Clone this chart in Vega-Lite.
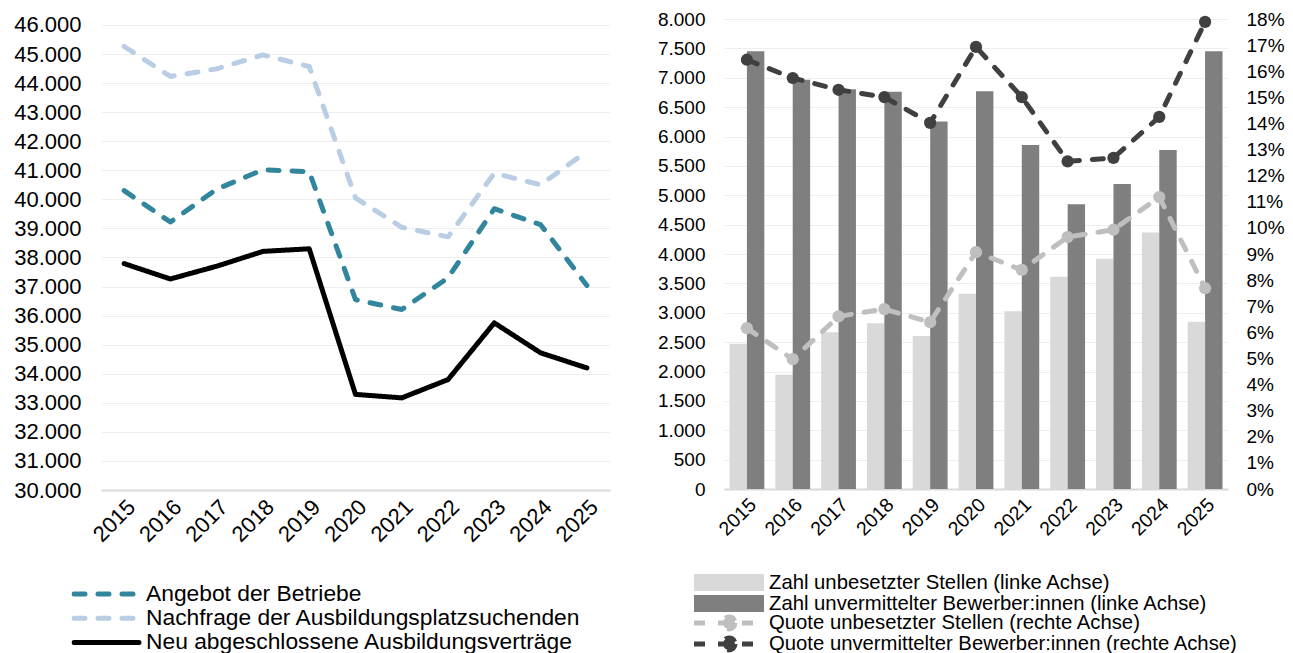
{
  "$schema": "https://vega.github.io/schema/vega-lite/v6.json",
  "padding": {"left": 13, "top": 10, "right": 0, "bottom": 0},
  "background": "white",
  "config": {
    "locale": {"number": {"decimal": ",", "thousands": ".", "grouping": [3], "currency": ["", " €"]}},
    "font": "Liberation Sans",
    "view": {"stroke": null},
    "axis": {"labelFont": "Liberation Sans", "labelColor": "#000000", "ticks": false, "domain": false, "gridColor": "#eeeeee", "gridWidth": 1, "title": null, "labelOverlap": false},
    "legend": {"labelFont": "Liberation Sans", "labelColor": "#000000", "padding": 0, "title": null, "labelLimit": 0}
  },
  "datasets": {
    "left": [
      {"year": "2015", "series": "Angebot der Betriebe", "value": 40300},
      {"year": "2016", "series": "Angebot der Betriebe", "value": 39220},
      {"year": "2017", "series": "Angebot der Betriebe", "value": 40350},
      {"year": "2018", "series": "Angebot der Betriebe", "value": 41020},
      {"year": "2019", "series": "Angebot der Betriebe", "value": 40950},
      {"year": "2020", "series": "Angebot der Betriebe", "value": 36550},
      {"year": "2021", "series": "Angebot der Betriebe", "value": 36210},
      {"year": "2022", "series": "Angebot der Betriebe", "value": 37300},
      {"year": "2023", "series": "Angebot der Betriebe", "value": 39680},
      {"year": "2024", "series": "Angebot der Betriebe", "value": 39130},
      {"year": "2025", "series": "Angebot der Betriebe", "value": 37040},
      {"year": "2015", "series": "Nachfrage der Ausbildungsplatzsuchenden", "value": 45260},
      {"year": "2016", "series": "Nachfrage der Ausbildungsplatzsuchenden", "value": 44230},
      {"year": "2017", "series": "Nachfrage der Ausbildungsplatzsuchenden", "value": 44490},
      {"year": "2018", "series": "Nachfrage der Ausbildungsplatzsuchenden", "value": 44970},
      {"year": "2019", "series": "Nachfrage der Ausbildungsplatzsuchenden", "value": 44570},
      {"year": "2020", "series": "Nachfrage der Ausbildungsplatzsuchenden", "value": 40050},
      {"year": "2021", "series": "Nachfrage der Ausbildungsplatzsuchenden", "value": 39040},
      {"year": "2022", "series": "Nachfrage der Ausbildungsplatzsuchenden", "value": 38710},
      {"year": "2023", "series": "Nachfrage der Ausbildungsplatzsuchenden", "value": 40900},
      {"year": "2024", "series": "Nachfrage der Ausbildungsplatzsuchenden", "value": 40500},
      {"year": "2025", "series": "Nachfrage der Ausbildungsplatzsuchenden", "value": 41650},
      {"year": "2015", "series": "Neu abgeschlossene Ausbildungsverträge", "value": 37790},
      {"year": "2016", "series": "Neu abgeschlossene Ausbildungsverträge", "value": 37260},
      {"year": "2017", "series": "Neu abgeschlossene Ausbildungsverträge", "value": 37700},
      {"year": "2018", "series": "Neu abgeschlossene Ausbildungsverträge", "value": 38210},
      {"year": "2019", "series": "Neu abgeschlossene Ausbildungsverträge", "value": 38300},
      {"year": "2020", "series": "Neu abgeschlossene Ausbildungsverträge", "value": 33290},
      {"year": "2021", "series": "Neu abgeschlossene Ausbildungsverträge", "value": 33170},
      {"year": "2022", "series": "Neu abgeschlossene Ausbildungsverträge", "value": 33800},
      {"year": "2023", "series": "Neu abgeschlossene Ausbildungsverträge", "value": 35750},
      {"year": "2024", "series": "Neu abgeschlossene Ausbildungsverträge", "value": 34720},
      {"year": "2025", "series": "Neu abgeschlossene Ausbildungsverträge", "value": 34200}
    ],
    "bars": [
      {"year": "2015", "series": "Zahl unbesetzter Stellen (linke Achse)", "value": 2474},
      {"year": "2016", "series": "Zahl unbesetzter Stellen (linke Achse)", "value": 1945},
      {"year": "2017", "series": "Zahl unbesetzter Stellen (linke Achse)", "value": 2669},
      {"year": "2018", "series": "Zahl unbesetzter Stellen (linke Achse)", "value": 2822},
      {"year": "2019", "series": "Zahl unbesetzter Stellen (linke Achse)", "value": 2606},
      {"year": "2020", "series": "Zahl unbesetzter Stellen (linke Achse)", "value": 3323},
      {"year": "2021", "series": "Zahl unbesetzter Stellen (linke Achse)", "value": 3027},
      {"year": "2022", "series": "Zahl unbesetzter Stellen (linke Achse)", "value": 3613},
      {"year": "2023", "series": "Zahl unbesetzter Stellen (linke Achse)", "value": 3920},
      {"year": "2024", "series": "Zahl unbesetzter Stellen (linke Achse)", "value": 4364},
      {"year": "2025", "series": "Zahl unbesetzter Stellen (linke Achse)", "value": 2845},
      {"year": "2015", "series": "Zahl unvermittelter Bewerber:innen (linke Achse)", "value": 7449},
      {"year": "2016", "series": "Zahl unvermittelter Bewerber:innen (linke Achse)", "value": 6964},
      {"year": "2017", "series": "Zahl unvermittelter Bewerber:innen (linke Achse)", "value": 6805},
      {"year": "2018", "series": "Zahl unvermittelter Bewerber:innen (linke Achse)", "value": 6760},
      {"year": "2019", "series": "Zahl unvermittelter Bewerber:innen (linke Achse)", "value": 6255},
      {"year": "2020", "series": "Zahl unvermittelter Bewerber:innen (linke Achse)", "value": 6771},
      {"year": "2021", "series": "Zahl unvermittelter Bewerber:innen (linke Achse)", "value": 5855},
      {"year": "2022", "series": "Zahl unvermittelter Bewerber:innen (linke Achse)", "value": 4848},
      {"year": "2023", "series": "Zahl unvermittelter Bewerber:innen (linke Achse)", "value": 5190},
      {"year": "2024", "series": "Zahl unvermittelter Bewerber:innen (linke Achse)", "value": 5770},
      {"year": "2025", "series": "Zahl unvermittelter Bewerber:innen (linke Achse)", "value": 7449}
    ],
    "quotes": [
      {"year": "2015", "series": "Quote unbesetzter Stellen (rechte Achse)", "value": 0.0616},
      {"year": "2016", "series": "Quote unbesetzter Stellen (rechte Achse)", "value": 0.0497},
      {"year": "2017", "series": "Quote unbesetzter Stellen (rechte Achse)", "value": 0.0661},
      {"year": "2018", "series": "Quote unbesetzter Stellen (rechte Achse)", "value": 0.0689},
      {"year": "2019", "series": "Quote unbesetzter Stellen (rechte Achse)", "value": 0.0639},
      {"year": "2020", "series": "Quote unbesetzter Stellen (rechte Achse)", "value": 0.0907},
      {"year": "2021", "series": "Quote unbesetzter Stellen (rechte Achse)", "value": 0.0839},
      {"year": "2022", "series": "Quote unbesetzter Stellen (rechte Achse)", "value": 0.0965},
      {"year": "2023", "series": "Quote unbesetzter Stellen (rechte Achse)", "value": 0.0993},
      {"year": "2024", "series": "Quote unbesetzter Stellen (rechte Achse)", "value": 0.1118},
      {"year": "2025", "series": "Quote unbesetzter Stellen (rechte Achse)", "value": 0.0769},
      {"year": "2015", "series": "Quote unvermittelter Bewerber:innen (rechte Achse)", "value": 0.1644},
      {"year": "2016", "series": "Quote unvermittelter Bewerber:innen (rechte Achse)", "value": 0.1574},
      {"year": "2017", "series": "Quote unvermittelter Bewerber:innen (rechte Achse)", "value": 0.1529},
      {"year": "2018", "series": "Quote unvermittelter Bewerber:innen (rechte Achse)", "value": 0.1501},
      {"year": "2019", "series": "Quote unvermittelter Bewerber:innen (rechte Achse)", "value": 0.1402},
      {"year": "2020", "series": "Quote unvermittelter Bewerber:innen (rechte Achse)", "value": 0.1693},
      {"year": "2021", "series": "Quote unvermittelter Bewerber:innen (rechte Achse)", "value": 0.1501},
      {"year": "2022", "series": "Quote unvermittelter Bewerber:innen (rechte Achse)", "value": 0.1255},
      {"year": "2023", "series": "Quote unvermittelter Bewerber:innen (rechte Achse)", "value": 0.1268},
      {"year": "2024", "series": "Quote unvermittelter Bewerber:innen (rechte Achse)", "value": 0.1425},
      {"year": "2025", "series": "Quote unvermittelter Bewerber:innen (rechte Achse)", "value": 0.1789}
    ]
  },
  "spacing": 47,
  "resolve": {
    "scale": {"color": "independent", "stroke": "independent", "strokeDash": "independent", "fill": "independent"},
    "legend": {"color": "independent", "stroke": "independent", "strokeDash": "independent", "fill": "independent"}
  },
  "hconcat": [
    {
      "width": 509,
      "height": 471,
      "data": {"name": "left"},
      "mark": {"type": "line", "strokeWidth": 5, "strokeCap": "round", "strokeJoin": "round"},
      "encoding": {
        "x": {"field": "year", "type": "ordinal", "scale": {"type": "point", "padding": 0.5},
          "axis": {"labelAngle": -45, "labelFontSize": 22, "domain": true, "domainColor": "#d9d9d9", "domainWidth": 2, "grid": false, "labelPadding": 6}},
        "y": {"field": "value", "type": "quantitative", "scale": {"domain": [30000, 46206], "nice": false, "zero": false},
          "axis": {"values": [30000, 31000, 32000, 33000, 34000, 35000, 36000, 37000, 38000, 39000, 40000, 41000, 42000, 43000, 44000, 45000, 46000], "format": ",d", "labelFontSize": 22, "labelPadding": 20, "grid": true}},
        "stroke": {"field": "series", "type": "nominal",
          "scale": {"domain": ["Angebot der Betriebe", "Nachfrage der Ausbildungsplatzsuchenden", "Neu abgeschlossene Ausbildungsverträge"], "range": ["#31859c", "#b9cde5", "#000000"]},
          "legend": {"orient": "none", "legendX": -29.5, "legendY": 564, "direction": "vertical", "symbolType": "M-1,0H1", "symbolSize": 4225, "symbolStrokeWidth": 5, "labelFontSize": 22.8, "labelOffset": 4.5, "clipHeight": 22, "rowPadding": 1.2, "encode": {"symbols": {"update": {"strokeCap": {"value": "round"}}}}}},
        "strokeDash": {"field": "series", "type": "nominal",
          "scale": {"domain": ["Angebot der Betriebe", "Nachfrage der Ausbildungsplatzsuchenden", "Neu abgeschlossene Ausbildungsverträge"], "range": [[11, 13], [11, 13], [1, 0]]},
          "legend": {"orient": "none", "legendX": -29.5, "legendY": 564, "direction": "vertical", "symbolType": "M-1,0H1", "symbolSize": 4225, "symbolStrokeWidth": 5, "labelFontSize": 22.8, "labelOffset": 4.5, "clipHeight": 22, "rowPadding": 1.2, "encode": {"symbols": {"update": {"strokeCap": {"value": "round"}}}}}}
      }
    },
    {
      "width": 504,
      "height": 470,
      "layer": [
        {
          "data": {"name": "bars"},
          "mark": {"type": "bar"},
          "encoding": {
            "x": {"field": "year", "type": "ordinal", "scale": {"paddingInner": 0.24, "paddingOuter": 0.12},
              "axis": {"labelAngle": -45, "labelFontSize": 19.5, "domain": true, "domainColor": "#d9d9d9", "domainWidth": 2, "grid": false, "labelPadding": 6}},
            "xOffset": {"field": "series", "type": "nominal", "scale": {"domain": ["Zahl unbesetzter Stellen (linke Achse)", "Zahl unvermittelter Bewerber:innen (linke Achse)"], "paddingInner": 0, "paddingOuter": 0}},
            "y": {"field": "value", "type": "quantitative", "scale": {"domain": [0, 8000], "nice": false},
              "axis": {"orient": "left", "values": [0, 500, 1000, 1500, 2000, 2500, 3000, 3500, 4000, 4500, 5000, 5500, 6000, 6500, 7000, 7500, 8000], "format": ",d", "labelFontSize": 19, "labelPadding": 19, "grid": true}},
            "color": {"field": "series", "type": "nominal",
              "scale": {"domain": ["Zahl unbesetzter Stellen (linke Achse)", "Zahl unvermittelter Bewerber:innen (linke Achse)"], "range": ["#d9d9d9", "#7f7f7f"]},
              "legend": {"orient": "none", "legendX": -30, "legendY": 554, "direction": "vertical", "symbolType": "M-1,-0.243H1V0.243H-1Z", "symbolSize": 4900, "symbolStrokeWidth": 0, "labelFontSize": 20.3, "labelOffset": 5, "clipHeight": 19, "rowPadding": 0}}
          }
        },
        {
          "data": {"name": "quotes"},
          "layer": [
            {
              "mark": {"type": "line", "strokeWidth": 5, "strokeCap": "round", "strokeJoin": "round"},
              "encoding": {
                "x": {"field": "year", "type": "ordinal"},
                "y": {"field": "value", "type": "quantitative", "scale": {"domain": [0, 0.18], "nice": false},
                  "axis": {"orient": "right", "values": [0, 0.01, 0.02, 0.03, 0.04, 0.05, 0.06, 0.07, 0.08, 0.09, 0.1, 0.11, 0.12, 0.13, 0.14, 0.15, 0.16, 0.17, 0.18], "format": ".0%", "labelFontSize": 19, "labelPadding": 18, "grid": false, "labelOverlap": false}},
                "stroke": {"field": "series", "type": "nominal",
                  "scale": {"domain": ["Quote unbesetzter Stellen (rechte Achse)", "Quote unvermittelter Bewerber:innen (rechte Achse)"], "range": ["#bfbfbf", "#404040"]},
                  "legend": {"orient": "none", "legendX": -32.5, "legendY": 594.5, "direction": "vertical", "symbolType": "M-1,0H1M0.17,0A0.17,0.17,0,1,1,-0.17,0A0.17,0.17,0,1,1,0.17,0", "symbolSize": 4900, "symbolStrokeWidth": 5, "labelFontSize": 20.3, "labelOffset": 2.5, "clipHeight": 19, "rowPadding": 0}},
                "strokeDash": {"field": "series", "type": "nominal",
                  "scale": {"domain": ["Quote unbesetzter Stellen (rechte Achse)", "Quote unvermittelter Bewerber:innen (rechte Achse)"], "range": [[11, 13], [11, 13]]},
                  "legend": {"orient": "none", "legendX": -32.5, "legendY": 594.5, "direction": "vertical", "symbolType": "M-1,0H1M0.17,0A0.17,0.17,0,1,1,-0.17,0A0.17,0.17,0,1,1,0.17,0", "symbolSize": 4900, "symbolStrokeWidth": 5, "labelFontSize": 20.3, "labelOffset": 2.5, "clipHeight": 19, "rowPadding": 0}}
              }
            },
            {
              "mark": {"type": "point", "filled": true, "size": 150, "opacity": 1},
              "encoding": {
                "x": {"field": "year", "type": "ordinal"},
                "y": {"field": "value", "type": "quantitative", "scale": {"domain": [0, 0.18], "nice": false},
                  "axis": {"orient": "right", "values": [0, 0.01, 0.02, 0.03, 0.04, 0.05, 0.06, 0.07, 0.08, 0.09, 0.1, 0.11, 0.12, 0.13, 0.14, 0.15, 0.16, 0.17, 0.18], "format": ".0%", "labelFontSize": 19, "labelPadding": 18, "grid": false, "labelOverlap": false}},
                "fill": {"field": "series", "type": "nominal",
                  "scale": {"domain": ["Quote unbesetzter Stellen (rechte Achse)", "Quote unvermittelter Bewerber:innen (rechte Achse)"], "range": ["#bfbfbf", "#404040"]},
                  "legend": {"orient": "none", "legendX": -32.5, "legendY": 594.5, "direction": "vertical", "symbolType": "M-1,0H1M0.17,0A0.17,0.17,0,1,1,-0.17,0A0.17,0.17,0,1,1,0.17,0", "symbolSize": 4900, "symbolStrokeWidth": 5, "labelFontSize": 20.3, "labelOffset": 2.5, "clipHeight": 19, "rowPadding": 0}}
              }
            }
          ]
        }
      ],
      "resolve": {"scale": {"y": "independent"}}
    }
  ]
}
